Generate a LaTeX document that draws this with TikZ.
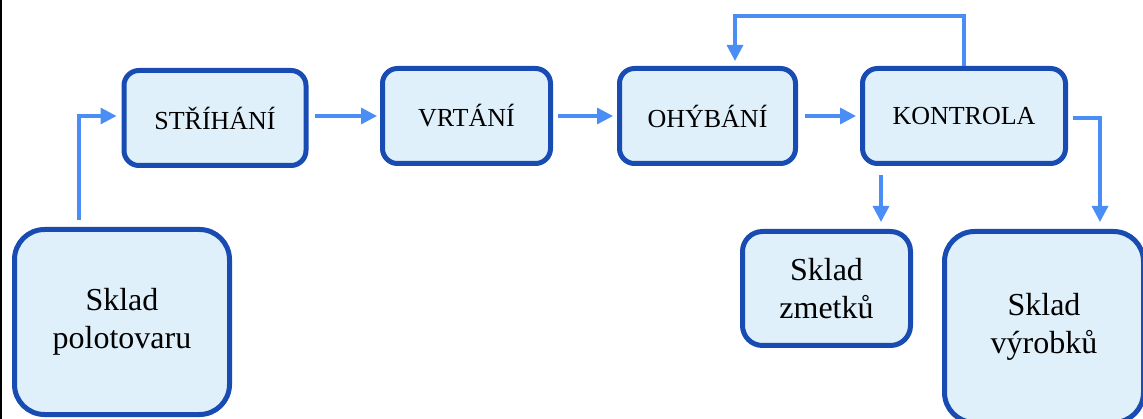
\documentclass[tikz,border=0pt]{standalone}
\usepackage{fontspec}
\setmainfont{Liberation Serif}
\usetikzlibrary{arrows.meta}
\definecolor{boxline}{RGB}{24,76,178}
\definecolor{boxfill}{RGB}{223,240,251}
\definecolor{flowblue}{RGB}{74,141,245}

\begin{document}
\begin{tikzpicture}[x=1pt,y=-1pt,
    stage/.style={draw=boxline,fill=boxfill,line width=5pt,rounded corners=15pt,
        minimum width=#1,minimum height=95pt,inner sep=0pt,font=\fontsize{26}{31}\selectfont},
    store/.style={draw=boxline,fill=boxfill,line width=5pt,inner sep=0pt,
        align=center,font=\fontsize{32}{38}\selectfont},
    flow/.style={draw=flowblue,line width=3.3pt,-{Triangle[length=16pt,width=16pt]}}]
    \useasboundingbox (0,0) rectangle (1143,419);
    \draw[line width=2pt] (1,0) -- (1,419);
    \node[stage=182pt] (strih) at (215,118) {STŘÍHÁNÍ};
    \node[stage=168pt] (vrt) at (466.5,116) {VRTÁNÍ};
    \node[stage=176pt] (ohyb) at (707.5,116) {OHÝBÁNÍ};
    \node[stage=203pt] (kontr) at (964,116) {KONTROLA};
    \node[store,minimum width=215pt,minimum height=185pt,rounded corners=30pt] (polot) at (122,322) {Sklad\\polotovaru};
    \node[store,minimum width=168pt,minimum height=114pt,rounded corners=20pt] (zmet) at (826.5,288.5) {Sklad\\zmetků};
    \node[store,minimum width=199pt,minimum height=191pt,rounded corners=30pt] (vyrob) at (1044,327) {Sklad\\výrobků};
    \coordinate (pu) at ([xshift=-43pt]polot.north);
    \coordinate (fb) at (735,16);
    \coordinate (kr) at (1100,118);
    \coordinate (kd) at ([xshift=-83pt]kontr.south);
    \draw[flow,shorten <=7pt,shorten >=5pt] (pu) |- (strih.west |- vrt.west);
    \draw[flow,shorten <=6pt,shorten >=3pt] (strih.east |- vrt.west) -- (vrt.west);
    \draw[flow,shorten <=5pt,shorten >=4pt] (vrt.east) -- (ohyb.west);
    \draw[flow,shorten <=7pt,shorten >=4pt] (ohyb.east) -- (kontr.west);
    \draw[flow,shorten >=5pt] (kontr.north) |- (fb) -- (fb |- ohyb.north);
    \draw[flow,shorten <=5pt,shorten >=7pt] (kontr.east |- kr) -- (kr) -- (kr |- vyrob.north);
    \draw[flow,shorten <=9pt,shorten >=7pt] (kd) -- (kd |- zmet.north);
\end{tikzpicture}
\end{document}
